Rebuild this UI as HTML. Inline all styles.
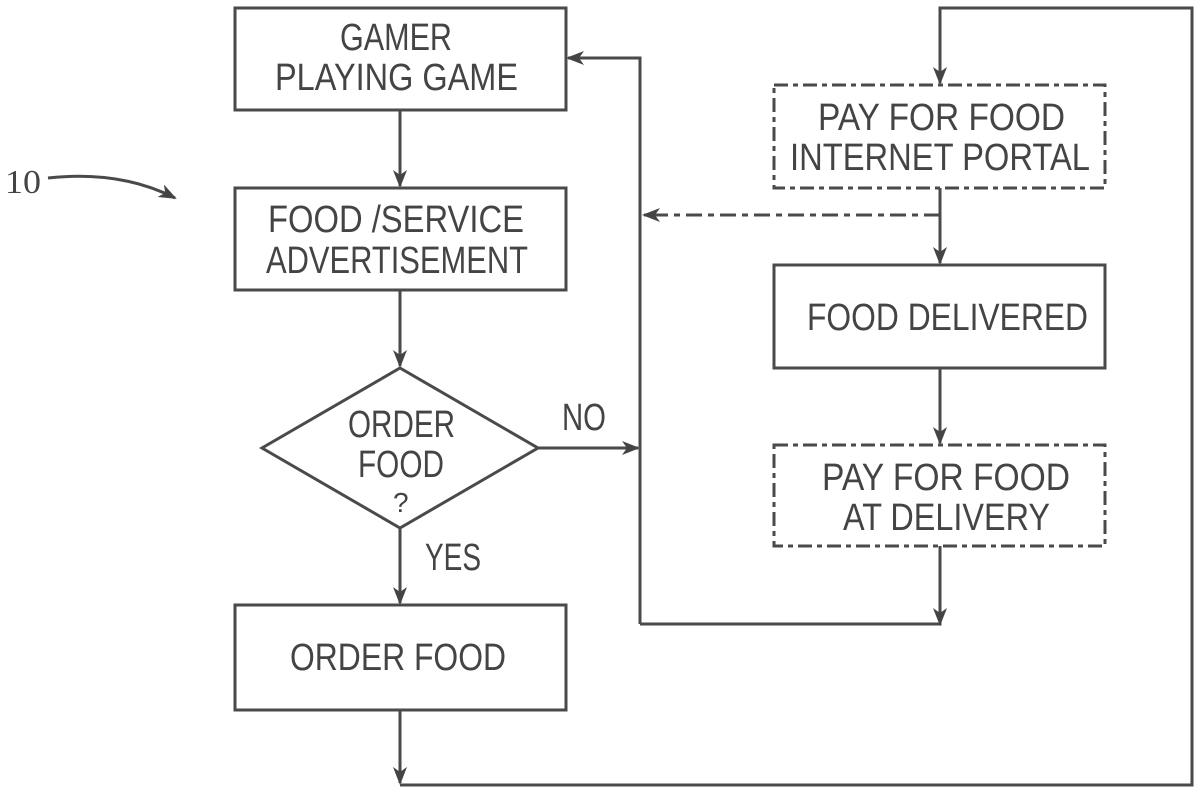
<!DOCTYPE html>
<html><head><style>html,body{margin:0;padding:0;background:#fff;}svg{display:block}</style></head>
<body>
<svg width="1200" height="794" viewBox="0 0 1200 794" xmlns="http://www.w3.org/2000/svg">
<defs>
<marker id="a" markerWidth="18" markerHeight="14" refX="16" refY="7" orient="auto" markerUnits="userSpaceOnUse">
<path d="M0,0 L18,7 L0,14 L5,7 Z" fill="#444"/>
</marker>
</defs>
<g fill="none" stroke="#4a4a4a" stroke-width="3">
<rect x="235" y="8" width="331" height="102"/>
<rect x="235" y="188" width="331" height="102"/>
<polygon points="400,368 538,448 400,528 262,448"/>
<rect x="235" y="605" width="331" height="105"/>
<rect x="774" y="85" width="331" height="103" stroke-dasharray="14,5,5,5"/>
<rect x="774" y="265" width="331" height="103"/>
<rect x="774" y="445" width="331" height="101" stroke-dasharray="14,5,5,5"/>
<line x1="400" y1="110" x2="400" y2="186" marker-end="url(#a)"/>
<line x1="400" y1="290" x2="400" y2="366" marker-end="url(#a)"/>
<line x1="400" y1="528" x2="400" y2="603" marker-end="url(#a)"/>
<line x1="400" y1="710" x2="400" y2="783" marker-end="url(#a)"/>
<polyline points="400,785 1192,785 1192,8 940,8 940,83" marker-end="url(#a)"/>
<line x1="538" y1="448" x2="638" y2="448" marker-end="url(#a)"/>
<polyline points="640,624 640,58 568,58" marker-end="url(#a)"/>
<line x1="940" y1="188" x2="940" y2="263" marker-end="url(#a)"/>
<line x1="940" y1="368" x2="940" y2="443" marker-end="url(#a)"/>
<polyline points="640,624 940,624 940,546"/>
<line x1="940" y1="622" x2="940" y2="624" marker-end="url(#a)"/>
<line x1="940" y1="215" x2="644" y2="215" stroke-dasharray="16,6,6,6" marker-end="url(#a)"/>
<path d="M48,178 Q120,170 175,198" marker-end="url(#a)"/>
</g>
<g fill="#444" font-family="Liberation Sans, sans-serif" font-size="38" lengthAdjust="spacingAndGlyphs">
<text x="340" y="50" textLength="112" lengthAdjust="spacingAndGlyphs">GAMER</text>
<text x="275" y="90" textLength="243" lengthAdjust="spacingAndGlyphs">PLAYING GAME</text>
<text x="268" y="232" textLength="256" lengthAdjust="spacingAndGlyphs">FOOD /SERVICE</text>
<text x="266" y="273" textLength="262" lengthAdjust="spacingAndGlyphs">ADVERTISEMENT</text>
<text x="348" y="437" textLength="107" lengthAdjust="spacingAndGlyphs">ORDER</text>
<text x="358" y="477" textLength="86" lengthAdjust="spacingAndGlyphs">FOOD</text>
<text x="393" y="512" font-size="28">?</text>
<text x="562" y="430" textLength="44" lengthAdjust="spacingAndGlyphs">NO</text>
<text x="425" y="570" textLength="56" lengthAdjust="spacingAndGlyphs">YES</text>
<text x="290" y="670" textLength="216" lengthAdjust="spacingAndGlyphs">ORDER FOOD</text>
<text x="818" y="130" textLength="247" lengthAdjust="spacingAndGlyphs">PAY FOR FOOD</text>
<text x="790" y="170" textLength="300" lengthAdjust="spacingAndGlyphs">INTERNET PORTAL</text>
<text x="807" y="330" textLength="281" lengthAdjust="spacingAndGlyphs">FOOD DELIVERED</text>
<text x="822" y="490" textLength="248" lengthAdjust="spacingAndGlyphs">PAY FOR FOOD</text>
<text x="843" y="530" textLength="207" lengthAdjust="spacingAndGlyphs">AT DELIVERY</text>
<text x="5" y="193" font-family="Liberation Serif, serif" font-size="34" textLength="36" lengthAdjust="spacingAndGlyphs">10</text>
</g>
</svg>
</body></html>
